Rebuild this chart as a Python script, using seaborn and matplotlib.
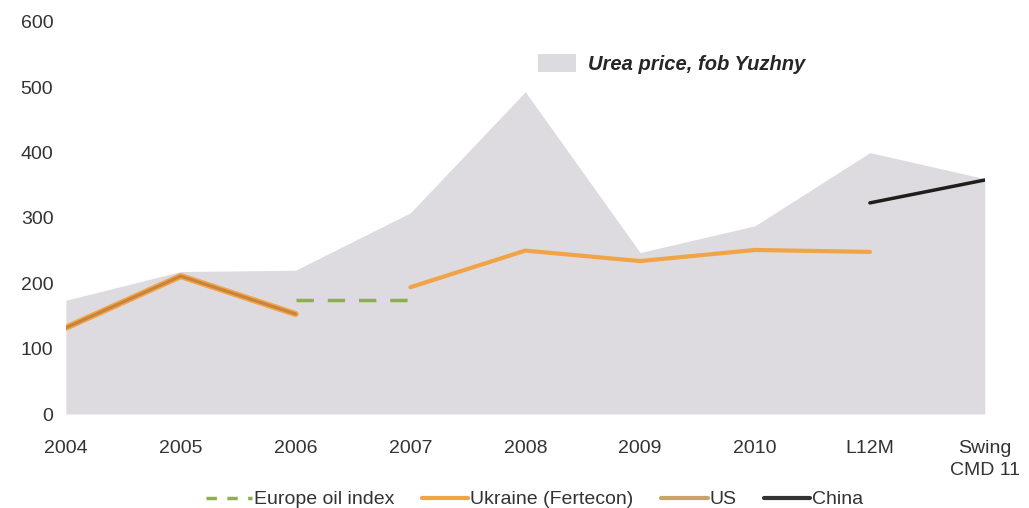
import numpy as np
import pandas as pd
import matplotlib
matplotlib.use("Agg")
import matplotlib.pyplot as plt
import seaborn as sns
from matplotlib.patches import Patch
from matplotlib.lines import Line2D

# Data
categories = ["2004", "2005", "2006", "2007", "2008", "2009", "2010", "L12M", "Swing\nCMD 11"]
urea_price = [174, 218, 220, 308, 493, 247, 288, 400, 360]

us_cats = ["2004", "2005", "2006"]
us_values = [132, 211, 153]

europe_cats = ["2006", "2007"]
europe_values = [175, 175]

ukraine_cats = ["2007", "2008", "2009", "2010", "L12M"]
ukraine_values = [194, 250, 234, 251, 248]

china_cats = ["L12M", "Swing\nCMD 11"]
china_values = [323, 358]

sns.set_theme(style="white")
plt.rcParams["font.family"] = ["Liberation Sans", "DejaVu Sans"]

pos = {c: i for i, c in enumerate(categories)}

def frame(cats, vals):
    return pd.DataFrame({"x": [pos[c] for c in cats], "y": vals})

fig = plt.figure(figsize=(10.29, 5.08), dpi=100)
ax = fig.add_axes([0.064, 0.185, 0.893, 0.772])

area_color = "#dddbdf"
ax.fill_between(range(len(categories)), urea_price, 0, color=area_color, lw=0, zorder=1)

# Ukraine underlay on the US stretch gives the orange rim seen in the original
sns.lineplot(data=frame(us_cats, us_values), x="x", y="y", ax=ax,
             color="#f2a54a", lw=4.5, zorder=2)
sns.lineplot(data=frame(us_cats, us_values), x="x", y="y", ax=ax,
             color="#c8843c", lw=2.2, zorder=3)
sns.lineplot(data=frame(europe_cats, europe_values), x="x", y="y", ax=ax,
             color="#8db04a", lw=2.5, ls=(0, (5, 4)), zorder=3)
sns.lineplot(data=frame(ukraine_cats, ukraine_values), x="x", y="y", ax=ax,
             color="#f0a445", lw=3, zorder=3)
sns.lineplot(data=frame(china_cats, china_values), x="x", y="y", ax=ax,
             color="#1e1e1e", lw=2.5, zorder=3)

ax.set_xlim(0, len(categories) - 1)
ax.set_ylim(0, 600)
ax.set_yticks(range(0, 601, 100))
ax.set_xticks(range(len(categories)))
ax.set_xticklabels(categories, fontsize=14, color="#333333", linespacing=1.35)
ax.tick_params(axis="y", labelsize=14, colors="#333333", pad=9, length=0)
ax.tick_params(axis="x", pad=19, length=0)
ax.set_xlabel("")
ax.set_ylabel("")
for s in ax.spines.values():
    s.set_visible(False)

# area legend inside the plot
leg1 = ax.legend(handles=[Patch(facecolor=area_color, edgecolor="none")],
                 labels=["Urea price, fob Yuzhny"], loc="upper left",
                 bbox_to_anchor=(0.494, 0.965), frameon=False, handlelength=1.9,
                 handleheight=1.0, handletextpad=0.6,
                 prop={"style": "italic", "weight": "bold", "size": 14.5})
ax.add_artist(leg1)

handles = [
    Line2D([], [], color="#8db04a", lw=2.5, ls=(0, (3, 3))),
    Line2D([], [], color="#f0a445", lw=3),
    Line2D([], [], color="#c9a46a", lw=3),
    Line2D([], [], color="#333333", lw=3),
]
labels = ["Europe oil index", "Ukraine (Fertecon)", "US", "China"]
ax.legend(handles=handles, labels=labels, loc="center", ncol=4,
          bbox_to_anchor=(0.51, -0.218), frameon=False, fontsize=14,
          handlelength=2.4, handletextpad=0.1, columnspacing=1.4,
          labelcolor="#333333")

fig.savefig("out.png", dpi=100)
